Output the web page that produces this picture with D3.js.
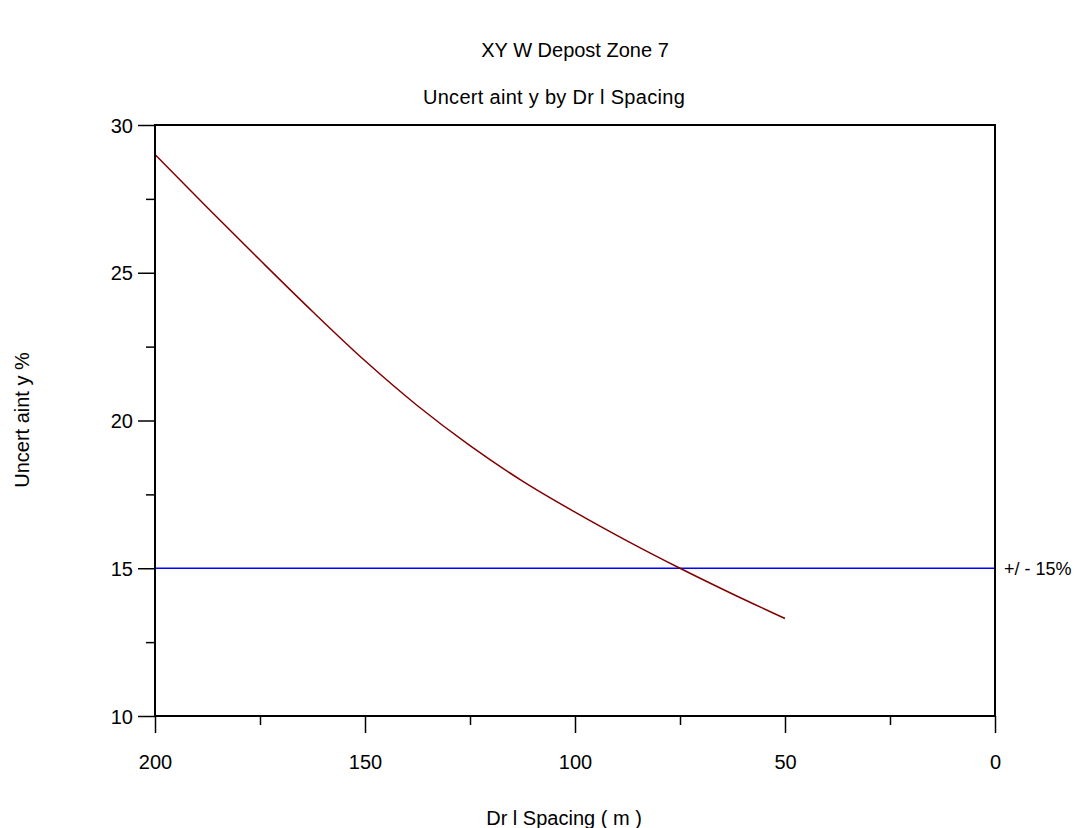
<!DOCTYPE html>
<html>
<head>
<meta charset="utf-8">
<script src="https://cdn.jsdelivr.net/npm/d3@7"></script>
<style>
  body { margin: 0; background: #fff; }
  svg text { font-family: "Liberation Sans", Arial, sans-serif; fill: #000; }
</style>
</head>
<body>
<svg id="chart" width="1081" height="828"></svg>
<script>
// ---- data ----
const spacing = [200, 187.5, 175, 162.5, 150, 137.5, 125, 112.5, 100, 87.5, 75, 62.5, 50];
const uncertainty = [29.0, 27.2, 25.43, 23.69, 22.02, 20.5, 19.15, 17.95, 16.9, 15.92, 15.0, 14.13, 13.3];
const thresholdValue = 15;
const thresholdLabel = "+/ - 15%";
const xTicksMajor = [200, 150, 100, 50, 0];
const xTicksMinor = [175, 125, 75, 25];
const yTicksMajor = [10, 15, 20, 25, 30];
const yTicksMinor = [12.5, 17.5, 22.5, 27.5];
const titleText = "XY W Depost  Zone 7";
const subtitleText = "Uncert aint y by Dr l Spacing";
const xTitle = "Dr l Spacing  ( m )";
const yTitle = "Uncert aint y %";

// ---- layout ----
const L = 155, R = 995, T = 125, B = 716;
const svg = d3.select("#chart");
const x = d3.scaleLinear().domain([200, 0]).range([L, R]);
const y = d3.scaleLinear().domain([10, 30]).range([B, T]);

// data lines
svg.append("line")
  .attr("x1", x(200)).attr("x2", x(0))
  .attr("y1", y(thresholdValue)).attr("y2", y(thresholdValue))
  .attr("stroke", "#0000ff").attr("stroke-width", 1.5);

const line = d3.line().x((d, i) => x(spacing[i])).y(d => y(d)).curve(d3.curveCatmullRom);
svg.append("path")
  .attr("d", line(uncertainty))
  .attr("fill", "none").attr("stroke", "#800000").attr("stroke-width", 1.5);

// axes
const gx = svg.append("g").attr("transform", `translate(0,${B})`);
gx.call(d3.axisBottom(x).tickValues(xTicksMajor).tickSize(17).tickFormat(d3.format("d")));
gx.append("g").call(d3.axisBottom(x).tickValues(xTicksMinor).tickSize(9).tickFormat(""));
const gy = svg.append("g").attr("transform", `translate(${L},0)`);
gy.call(d3.axisLeft(y).tickValues(yTicksMajor).tickSize(17).tickFormat(d3.format("d")));
gy.append("g").call(d3.axisLeft(y).tickValues(yTicksMinor).tickSize(9).tickFormat(""));

svg.selectAll(".domain").remove();
svg.selectAll(".tick line").attr("stroke", "#000").attr("stroke-width", 1.5);
gx.selectAll(".tick text").attr("font-size", 20).attr("dy", 0).attr("y", 53)
  .attr("font-family", "Liberation Sans, Arial, sans-serif");
gy.selectAll(".tick text").attr("font-size", 20).attr("x", -22).attr("dy", "0.35em")
  .attr("font-family", "Liberation Sans, Arial, sans-serif");

// frame
svg.append("rect").attr("x", L).attr("y", T).attr("width", R - L).attr("height", B - T)
  .attr("fill", "none").attr("stroke", "#000").attr("stroke-width", 2);

// threshold label
svg.append("text").attr("x", R + 9).attr("y", y(thresholdValue)).attr("dy", "0.35em")
  .attr("font-size", 18).text(thresholdLabel);

// titles
svg.append("text").attr("x", 575).attr("y", 57).attr("text-anchor", "middle")
  .attr("font-size", 20).text(titleText);
svg.append("text").attr("x", 554).attr("y", 104).attr("text-anchor", "middle")
  .attr("font-size", 20).attr("letter-spacing", 0.3).text(subtitleText);
svg.append("text").attr("x", 564).attr("y", 825).attr("text-anchor", "middle")
  .attr("font-size", 20).text(xTitle);
svg.append("text").attr("transform", "translate(29,420) rotate(-90)")
  .attr("text-anchor", "middle").attr("font-size", 20).text(yTitle);
</script>
</body>
</html>
